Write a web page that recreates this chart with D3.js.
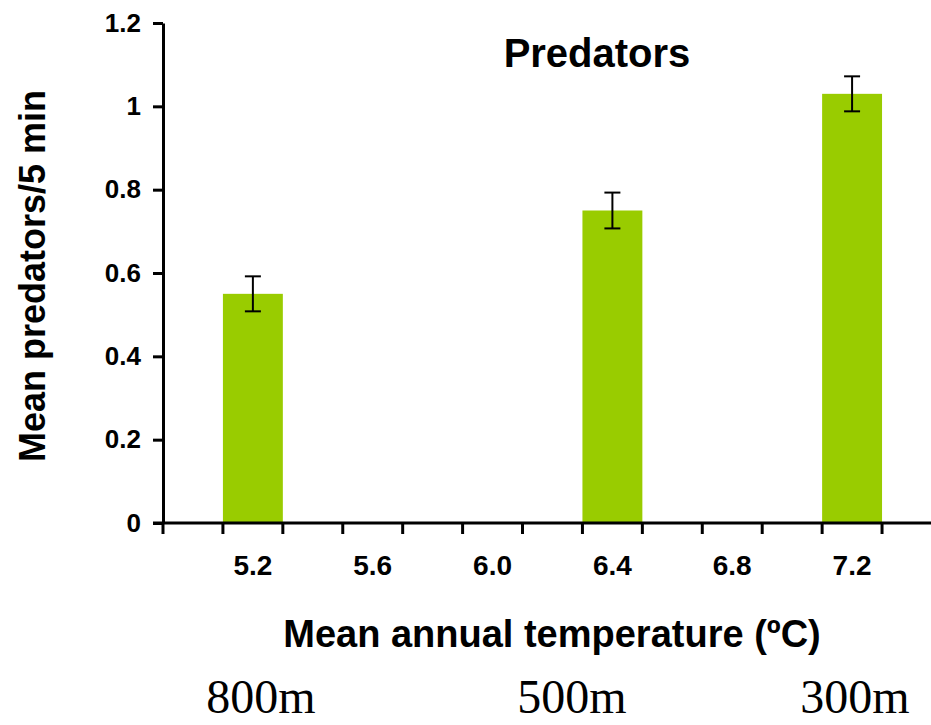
<!DOCTYPE html>
<html>
<head>
<meta charset="utf-8">
<script src="https://cdn.jsdelivr.net/npm/d3@7"></script>
<style>
  body { margin: 0; background: #fff; }
  svg { display: block; }
</style>
</head>
<body>
<svg id="chart"></svg>
<script>
// category slots along the temperature axis
var bins = ["5.0", "5.2", "5.4", "5.6", "5.8", "6.0", "6.2", "6.4", "6.6", "6.8", "7.0", "7.2", "7.4"];
var tickLabels = ["5.2", "5.6", "6.0", "6.4", "6.8", "7.2"];
var yTicks = [0, 0.2, 0.4, 0.6, 0.8, 1, 1.2];

// measured sites
var temps = ["5.2", "6.4", "7.2"];
var means = [0.55, 0.75, 1.03];
var errs  = [0.042, 0.043, 0.042];
var altitudes = ["800m", "500m", "300m"];
var altitudeX = [261, 572, 855]; // layout: where the altitude notes sit

var width = 931, height = 725;
var marginLeft = 163, axisBottom = 523, axisTop = 23;

var svg = d3.select('#chart')
  .attr('width', width)
  .attr('height', height);

var x = d3.scaleBand()
  .domain(bins)
  .range([marginLeft, marginLeft + 13 * 59.92])
  .padding(0);

var y = d3.scaleLinear()
  .domain([0, 1.2])
  .range([axisBottom, axisTop]);

// bars
svg.selectAll('rect.bar')
  .data(temps)
  .enter()
  .append('rect')
  .attr('class', 'bar')
  .attr('x', function(d) { return x(d); })
  .attr('width', x.bandwidth())
  .attr('y', function(d, i) { return y(means[i]); })
  .attr('height', function(d, i) { return y(0) - y(means[i]); })
  .attr('fill', '#99cc00');

// error bars
var eb = svg.selectAll('g.err')
  .data(temps)
  .enter()
  .append('g')
  .attr('class', 'err')
  .attr('stroke', '#000')
  .attr('stroke-width', 2);

eb.append('line')
  .attr('x1', function(d) { return x(d) + x.bandwidth() / 2; })
  .attr('x2', function(d) { return x(d) + x.bandwidth() / 2; })
  .attr('y1', function(d, i) { return y(means[i] + errs[i]); })
  .attr('y2', function(d, i) { return y(means[i] - errs[i]); });

[1, -1].forEach(function(s) {
  eb.append('line')
    .attr('x1', function(d) { return x(d) + x.bandwidth() / 2 - 8; })
    .attr('x2', function(d) { return x(d) + x.bandwidth() / 2 + 8; })
    .attr('y1', function(d, i) { return y(means[i] + s * errs[i]); })
    .attr('y2', function(d, i) { return y(means[i] + s * errs[i]); });
});

// y axis
var yAxis = svg.append('g')
  .attr('transform', 'translate(' + marginLeft + ',0)')
  .call(d3.axisLeft(y)
    .tickValues(yTicks)
    .tickFormat(d3.format('~g'))
    .tickSize(10)
    .tickSizeOuter(0)
    .tickPadding(12));

yAxis.selectAll('path, line').attr('stroke', '#000').attr('stroke-width', 3);
yAxis.selectAll('text')
  .attr('fill', '#000')
  .style('font-family', 'Arial, "Liberation Sans", sans-serif')
  .style('font-weight', 'bold')
  .style('font-size', '26px');

// x axis line and slot ticks
svg.append('line')
  .attr('x1', marginLeft - 10)
  .attr('x2', width)
  .attr('y1', y(0))
  .attr('y2', y(0))
  .attr('stroke', '#000')
  .attr('stroke-width', 3);

svg.selectAll('line.xtick')
  .data(bins)
  .enter()
  .append('line')
  .attr('class', 'xtick')
  .attr('x1', function(d) { return x(d); })
  .attr('x2', function(d) { return x(d); })
  .attr('y1', y(0))
  .attr('y2', y(0) + 11)
  .attr('stroke', '#000')
  .attr('stroke-width', 3);

svg.selectAll('text.xlab')
  .data(tickLabels)
  .enter()
  .append('text')
  .attr('class', 'xlab')
  .attr('x', function(d) { return x(d) + x.bandwidth() / 2; })
  .attr('y', 575)
  .attr('text-anchor', 'middle')
  .attr('style', 'font-family: Arial, "Liberation Sans", sans-serif; font-weight: bold; font-size: 28px')
  .text(function(d) { return d; });

// titles
svg.append('text')
  .attr('x', 597)
  .attr('y', 67)
  .attr('text-anchor', 'middle')
  .attr('style', 'font-family: Arial, "Liberation Sans", sans-serif; font-weight: bold; font-size: 40px')
  .text('Predators');

svg.append('text')
  .attr('transform', 'translate(45,276) rotate(-90)')
  .attr('text-anchor', 'middle')
  .attr('style', 'font-family: Arial, "Liberation Sans", sans-serif; font-weight: bold; font-size: 36px')
  .text('Mean predators/5 min');

svg.append('text')
  .attr('x', 552)
  .attr('y', 647)
  .attr('text-anchor', 'middle')
  .attr('style', 'font-family: Arial, "Liberation Sans", sans-serif; font-weight: bold; font-size: 38px')
  .text('Mean annual temperature (ºC)');

// altitude notes
svg.selectAll('text.alt')
  .data(altitudes)
  .enter()
  .append('text')
  .attr('class', 'alt')
  .attr('x', function(d, i) { return altitudeX[i]; })
  .attr('y', 713)
  .attr('text-anchor', 'middle')
  .attr('style', 'font-family: "Times New Roman", "Liberation Serif", serif; font-size: 48px')
  .text(function(d) { return d; });
</script>
</body>
</html>
